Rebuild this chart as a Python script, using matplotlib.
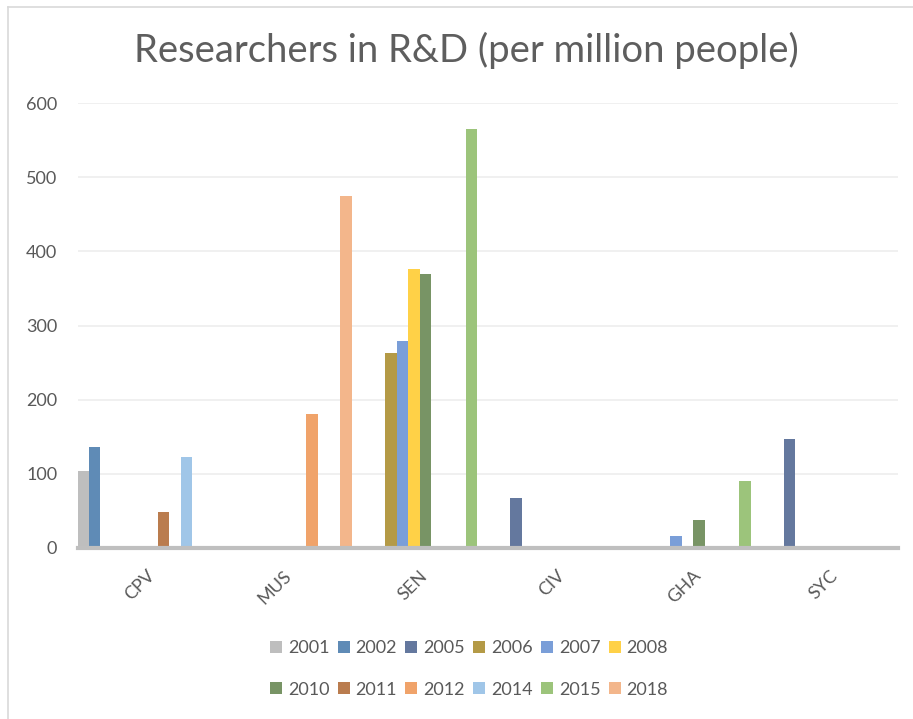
import matplotlib
matplotlib.use("Agg")
import matplotlib.pyplot as plt
from matplotlib.patches import Patch
from matplotlib.lines import Line2D
import numpy as np

plt.rcParams['font.family'] = ['Lato', 'DejaVu Sans']

categories = ["CPV", "MUS", "SEN", "CIV", "GHA", "SYC"]
years = ["2001", "2002", "2005", "2006", "2007", "2008",
         "2010", "2011", "2012", "2014", "2015", "2018"]
# values per year, one per category (None = no data)
v2001 = [104, None, None, None, None, None]
v2002 = [136, None, None, None, None, None]
v2005 = [None, None, None, 68, None, 147]
v2006 = [None, None, 263, None, None, None]
v2007 = [None, None, 279, None, 16, None]
v2008 = [None, None, 376, None, None, None]
v2010 = [None, None, 370, None, 38, None]
v2011 = [49, None, None, None, None, None]
v2012 = [None, 181, None, None, None, None]
v2014 = [123, None, None, None, None, None]
v2015 = [None, None, 565, None, 90, None]
v2018 = [None, 474, None, None, None, None]
series = [v2001, v2002, v2005, v2006, v2007, v2008,
          v2010, v2011, v2012, v2014, v2015, v2018]
colors = ["#BEBEBE", "#5F8BB6", "#64789E", "#B49A46", "#7A9ED8", "#FFD147",
          "#789465", "#BA7C4E", "#F0A36A", "#A0C6E8", "#9CC47B", "#F3B68B"]

fig = plt.figure(figsize=(9.13, 7.19), dpi=100)
ax = fig.add_axes([78/913, 1-548/719, (898-78)/913, (548-103)/719])

x = np.arange(len(categories))
n = len(series)
step = 11.5/136.7
width = step * 1.02
for i, (vals, c) in enumerate(zip(series, colors)):
    for j, v in enumerate(vals):
        if v is None:
            continue
        ax.bar(x[j] + (i - (n-1)/2)*step, v, width=width, color=c,
               edgecolor='none', zorder=3)

ax.set_xlim(-0.5, len(categories)-0.5)
ax.set_ylim(0, 600)
ax.set_yticks(range(0, 601, 100))
ax.yaxis.grid(True, color="#EDEDED", linewidth=1.2, zorder=0)
ax.set_axisbelow(True)
for s in ['top', 'right', 'left']:
    ax.spines[s].set_visible(False)
ax.spines['bottom'].set_color('#BFBFBF')
ax.spines['bottom'].set_linewidth(3)
ax.spines['bottom'].set_zorder(4)
ax.tick_params(axis='both', length=0, colors='#595959', labelsize=13)
ax.tick_params(axis='y', pad=15)
ax.set_xticks(x)
ax.set_xticklabels(categories, rotation=45, ha='right', rotation_mode='anchor',
                   fontsize=13, color='#595959')
ax.tick_params(axis='x', pad=14)

fig.text(466/913, 1-50/719, "Researchers in R&D (per million people)",
         ha='center', va='center', fontsize=27.5, color='#5E5E5E')

handles = [Patch(facecolor=c, edgecolor='none') for c in colors]
order = []
for j in range(6):
    order += [j, j+6]
leg = fig.legend([handles[k] for k in order], [years[k] for k in order],
                 ncol=6, loc='center', bbox_to_anchor=(469/913, 1-669/719),
                 frameon=False, fontsize=13, handlelength=0.67, handleheight=0.67,
                 handletextpad=0.33, columnspacing=0.45, labelspacing=1.4)
for t in leg.get_texts():
    t.set_color('#595959')

# chart border (left and top)
fig.add_artist(Line2D([8/913, 8/913], [0, 1-7/719], color='#D9D9D9', lw=1.2))
fig.add_artist(Line2D([8/913, 1], [1-7/719, 1-7/719], color='#D9D9D9', lw=1.2))

fig.savefig("out.png", dpi=100)
